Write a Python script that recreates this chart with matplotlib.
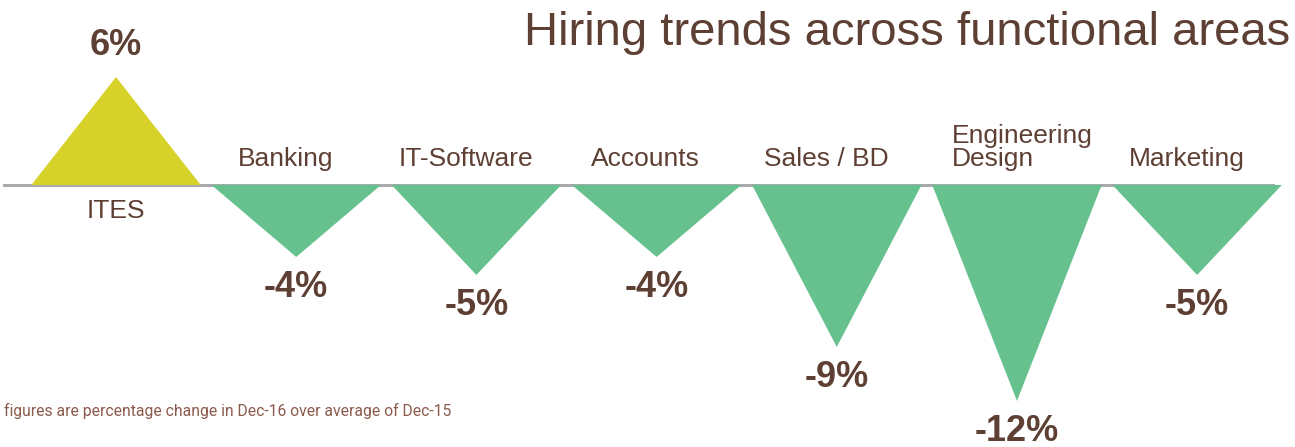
import matplotlib
matplotlib.use('Agg')
import matplotlib.pyplot as plt
from matplotlib import font_manager
from matplotlib.patches import Polygon

areas = ["ITES", "Banking", "IT-Software", "Accounts", "Sales / BD",
         "Engineering\nDesign", "Marketing"]
changes = [6, -4, -5, -4, -9, -12, -5]
labels = ["6%", "-4%", "-5%", "-4%", "-9%", "-12%", "-5%"]

brown = "#5E3F33"
up_col = "#D7D22A"
down_col = "#66C18E"

names = {f.name for f in font_manager.fontManager.ttflist}
narrow = "Liberation Sans Narrow" if "Liberation Sans Narrow" in names else "Liberation Sans"

fig = plt.figure(figsize=(12.95, 4.47), dpi=100)
ax = fig.add_axes([0, 0, 1, 1])
ax.set_xlim(-0.644, 6.543)
ax.set_ylim(-14.56, 10.28)
ax.axis("off")

half = 0.47
for i, (v, lab, name) in enumerate(zip(changes, labels, areas)):
    col = up_col if v > 0 else down_col
    ax.add_patch(Polygon([(i - half, 0), (i + half, 0), (i, v)], closed=True,
                         facecolor=col, edgecolor="none", zorder=2))
    if v > 0:
        ax.text(i, v + 0.8, lab, ha="center", va="bottom", fontsize=26,
                fontweight="bold", color=brown, family=narrow)
        ax.text(i, -0.8, name, ha="center", va="top", fontsize=19,
                color=brown, family=narrow)
    else:
        ax.text(i, v - 0.75, lab, ha="center", va="top", fontsize=26,
                fontweight="bold", color=brown, family=narrow)
        if "\n" in name:
            ax.text(i - 0.36, 0.8, name, ha="left", va="bottom", fontsize=19,
                    color=brown, family=narrow, linespacing=0.95)
        else:
            ax.text(i - 0.06, 0.8, name, ha="center", va="bottom", fontsize=19,
                    color=brown, family=narrow)

ax.plot([-0.62, 6.42], [0, 0], color="#A8AAAD", lw=2.2, zorder=1)

fig.text(0.996, 0.975, "Hiring trends across functional areas", ha="right",
         va="top", fontsize=34, color=brown, family=narrow)
fig.text(0.003, 0.062, "figures are percentage change in Dec-16 over average of Dec-15",
         ha="left", va="bottom", fontsize=11.3, color="#8A5A4C", family="Roboto")

fig.savefig("out.png", dpi=100)
